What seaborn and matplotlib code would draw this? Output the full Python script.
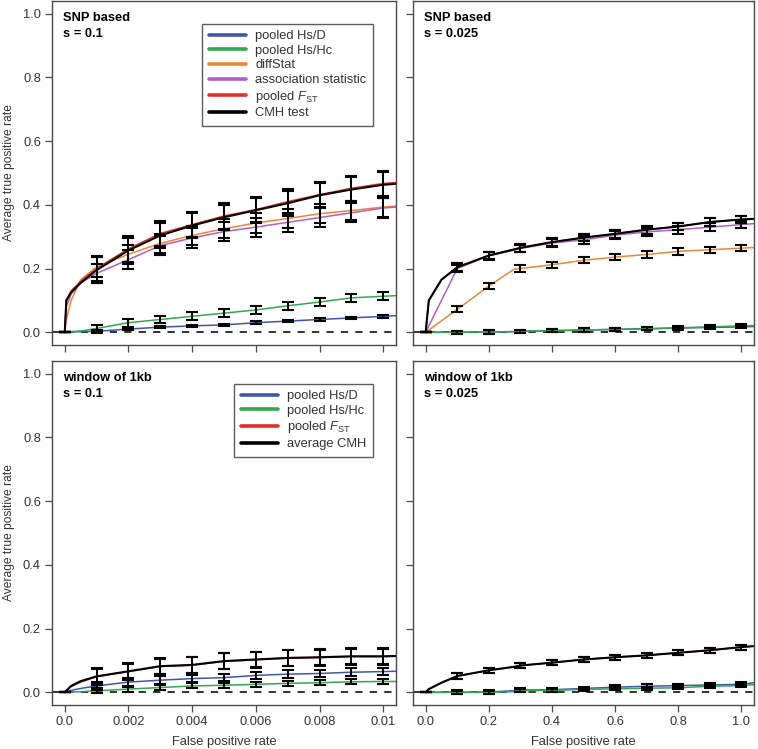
import numpy as np
import pandas as pd
import matplotlib
matplotlib.use("Agg")
import matplotlib.pyplot as plt
from matplotlib.lines import Line2D
import seaborn as sns

# ---- data ----
# left panels: FPR 0..0.01 ; right panels: FPR 0..1
fpr_left = [0, 0.00005, 0.0002, 0.0005, 0.001, 0.002, 0.003, 0.004, 0.005,
            0.006, 0.007, 0.008, 0.009, 0.01, 0.0104]
fpr_right = [0, 0.01, 0.05, 0.1, 0.2, 0.28, 0.3, 0.4, 0.5, 0.6, 0.7, 0.8,
             0.9, 1.0, 1.04]
bar_left = [0, 0.001, 0.002, 0.003, 0.004, 0.005, 0.006, 0.007, 0.008, 0.009, 0.01]
bar_right = [0, 0.1, 0.2, 0.3, 0.4, 0.5, 0.6, 0.7, 0.8, 0.9, 1.0]

# SNP based, s = 0.1
snp01_hsd = [0, 0, 0.001, 0.002, 0.003, 0.010, 0.016, 0.020, 0.023, 0.030, 0.035, 0.040, 0.045, 0.050, 0.052]
snp01_hshc = [0, 0.001, 0.002, 0.004, 0.012, 0.030, 0.040, 0.050, 0.060, 0.070, 0.083, 0.095, 0.108, 0.113, 0.115]
snp01_diff = [0, 0.04, 0.10, 0.165, 0.205, 0.245, 0.279, 0.304, 0.325, 0.343, 0.357, 0.372, 0.382, 0.393, 0.396]
snp01_assoc = [0, 0.08, 0.12, 0.155, 0.185, 0.228, 0.272, 0.296, 0.316, 0.330, 0.345, 0.360, 0.375, 0.390, 0.393]
snp01_fst = [0, 0.10, 0.13, 0.16, 0.200, 0.262, 0.310, 0.338, 0.365, 0.385, 0.410, 0.432, 0.452, 0.467, 0.470]
snp01_cmh = [0, 0.10, 0.125, 0.155, 0.195, 0.257, 0.304, 0.335, 0.361, 0.383, 0.405, 0.430, 0.448, 0.463, 0.466]
snp01_err = {"hsd": 0.004, "hshc": 0.012, "diff": 0.03, "assoc": 0.03, "fst": 0.04, "cmh": 0.04}

# SNP based, s = 0.025
snp025_hsd = [0, 0, 0, 0, 0.001, 0.002, 0.003, 0.005, 0.007, 0.009, 0.011, 0.013, 0.015, 0.017, 0.018]
snp025_hshc = [0, 0, 0, 0, 0.001, 0.002, 0.003, 0.005, 0.007, 0.009, 0.011, 0.014, 0.017, 0.020, 0.021]
snp025_diff = [0, 0.007, 0.036, 0.072, 0.145, 0.198, 0.200, 0.212, 0.226, 0.236, 0.244, 0.254, 0.259, 0.264, 0.266]
snp025_assoc = [0, 0.02, 0.10, 0.20, 0.240, 0.258, 0.263, 0.280, 0.290, 0.305, 0.315, 0.322, 0.330, 0.338, 0.341]
snp025_fst = [0, 0.10, 0.165, 0.204, 0.241, 0.260, 0.265, 0.283, 0.297, 0.309, 0.322, 0.332, 0.346, 0.354, 0.356]
snp025_cmh = [0, 0.10, 0.165, 0.204, 0.241, 0.260, 0.265, 0.283, 0.297, 0.309, 0.322, 0.332, 0.346, 0.354, 0.356]
snp025_err = {"hsd": 0.005, "hshc": 0.005, "diff": 0.01, "assoc": 0.012, "fst": 0.012, "cmh": 0.012}

# window of 1kb, s = 0.1
win01_hsd = [0, 0.002, 0.006, 0.012, 0.020, 0.032, 0.038, 0.043, 0.046, 0.053, 0.057, 0.059, 0.063, 0.065, 0.066]
win01_hshc = [0, 0, 0.001, 0.002, 0.005, 0.010, 0.015, 0.020, 0.022, 0.025, 0.028, 0.030, 0.033, 0.034, 0.034]
win01_fst = [0, 0.005, 0.018, 0.032, 0.049, 0.065, 0.081, 0.085, 0.097, 0.102, 0.107, 0.109, 0.112, 0.112, 0.113]
win01_cmh = [0, 0.005, 0.02, 0.035, 0.050, 0.066, 0.082, 0.086, 0.098, 0.103, 0.108, 0.110, 0.113, 0.113, 0.114]
win01_err = {"hsd": 0.012, "hshc": 0.008, "fst": 0.025, "cmh": 0.025}

# window of 1kb, s = 0.025
win025_hsd = [0, 0, 0, 0, 0.001, 0.005, 0.007, 0.008, 0.012, 0.016, 0.019, 0.021, 0.023, 0.025, 0.030]
win025_hshc = [0, 0, 0, 0, 0.000, 0.002, 0.005, 0.006, 0.009, 0.011, 0.013, 0.014, 0.019, 0.021, 0.024]
win025_fst = [0, 0.01, 0.03, 0.051, 0.069, 0.080, 0.084, 0.093, 0.103, 0.110, 0.116, 0.124, 0.132, 0.142, 0.145]
win025_cmh = [0, 0.01, 0.03, 0.051, 0.069, 0.080, 0.084, 0.093, 0.103, 0.110, 0.116, 0.124, 0.132, 0.142, 0.145]
win025_err = {"hsd": 0.006, "hshc": 0.005, "fst": 0.008, "cmh": 0.008}

names = {"hsd": "pooled Hs/D", "hshc": "pooled Hs/Hc", "diff": "diffStat",
         "assoc": "association statistic", "fst": r"pooled $F_{\mathrm{ST}}$",
         "cmh": "CMH test"}
colors = {"hsd": "#4057a8", "hshc": "#33a651", "diff": "#ec8638",
          "assoc": "#b060c4", "fst": "#e0302a", "cmh": "#000000"}
widths = {"hsd": 1.1, "hshc": 1.1, "diff": 1.1, "assoc": 1.1, "fst": 1.1, "cmh": 1.5}

sns.set_theme(style="ticks")
plt.rcParams["font.family"] = ["Liberation Sans", "DejaVu Sans"]
plt.rcParams["mathtext.fontset"] = "custom"
plt.rcParams["mathtext.rm"] = "Liberation Sans"
plt.rcParams["mathtext.it"] = "Liberation Sans:italic"
plt.rcParams["mathtext.bf"] = "Liberation Sans:bold"

fig = plt.figure(figsize=(7.58, 7.49), dpi=100)
pos = {
    "tl": [0.0686, 0.5394, 0.4538, 0.4593],
    "tr": [0.5449, 0.5394, 0.4499, 0.4593],
    "bl": [0.0686, 0.0587, 0.4538, 0.4593],
    "br": [0.5449, 0.0587, 0.4499, 0.4593],
}

panels = [
    ("tl", fpr_left, bar_left, {"hsd": snp01_hsd, "hshc": snp01_hshc, "diff": snp01_diff,
                                "assoc": snp01_assoc, "fst": snp01_fst, "cmh": snp01_cmh},
     snp01_err, "SNP based\ns = 0.1"),
    ("tr", fpr_right, bar_right, {"hsd": snp025_hsd, "hshc": snp025_hshc, "diff": snp025_diff,
                                  "assoc": snp025_assoc, "fst": snp025_fst, "cmh": snp025_cmh},
     snp025_err, "SNP based\ns = 0.025"),
    ("bl", fpr_left, bar_left, {"hsd": win01_hsd, "hshc": win01_hshc, "fst": win01_fst,
                                "cmh": win01_cmh},
     win01_err, "window of 1kb\ns = 0.1"),
    ("br", fpr_right, bar_right, {"hsd": win025_hsd, "hshc": win025_hshc, "fst": win025_fst,
                                  "cmh": win025_cmh},
     win025_err, "window of 1kb\ns = 0.025"),
]

text_col = "#333333"
edge_col = "#4a4a4a"
fs = 9.3
order = ["hsd", "hshc", "diff", "assoc", "fst", "cmh"]

for key, fpr, bars, series, errs, title in panels:
    ax = fig.add_axes(pos[key])
    rows = []
    for s, vals in series.items():
        for x, y in zip(fpr, vals):
            rows.append((s, x, y))
    df = pd.DataFrame(rows, columns=["series", "fpr", "tpr"])
    top = key[0] == "t"
    right = key[1] == "r"

    for s in order:
        if s not in series:
            continue
        sub = df[df.series == s]
        sns.lineplot(data=sub, x="fpr", y="tpr", ax=ax, color=colors[s],
                     lw=widths[s], estimator=None, sort=False, legend=False)
    # error bars (always black)
    for s in order:
        if s not in series:
            continue
        sub = df[(df.series == s) & (df.fpr.isin(bars))]
        e = np.where(sub.fpr.values == 0, 0, errs[s])
        ax.errorbar(sub.fpr, sub.tpr, yerr=e, fmt="none", ecolor="black",
                    elinewidth=1.4, capsize=4.5, capthick=1.5, zorder=5)
    ax.axhline(0, color="#222222", ls=(0, (4, 4)), lw=1.3, zorder=1)

    if right:
        ax.set_xlim(-0.04, 1.04)
        ax.set_xticks([0, 0.2, 0.4, 0.6, 0.8, 1.0])
        ax.set_xticklabels(["0.0", "0.2", "0.4", "0.6", "0.8", "1.0"])
    else:
        ax.set_xlim(-0.0004, 0.0104)
        ax.set_xticks([0, 0.002, 0.004, 0.006, 0.008, 0.01])
        ax.set_xticklabels(["0.0", "0.002", "0.004", "0.006", "0.008", "0.01"])
    ax.set_ylim(-0.04, 1.04)
    ax.set_yticks([0, 0.2, 0.4, 0.6, 0.8, 1.0])
    ax.set_yticklabels(["0.0", "0.2", "0.4", "0.6", "0.8", "1.0"])
    ax.tick_params(direction="out", length=5, width=0.9, colors=edge_col,
                   labelcolor=text_col, labelsize=fs, pad=3)
    if right:
        ax.tick_params(axis="y", labelleft=False)
        ax.set_ylabel("")
    else:
        ax.set_ylabel("Average true positive rate", fontsize=fs * 0.93, color=text_col)
        ax.yaxis.set_label_coords(-0.108, 0.5)
    if top:
        ax.tick_params(axis="x", labelbottom=False)
        ax.set_xlabel("")
    else:
        ax.set_xlabel("False positive rate", fontsize=fs, color=text_col)
        ax.xaxis.set_label_coords(0.5, -0.09)
    for sp in ax.spines.values():
        sp.set_visible(True)
        sp.set_color(edge_col)
        sp.set_linewidth(1.0)

    ax.text(0.032, 0.967, title, transform=ax.transAxes, ha="left", va="top",
            fontsize=fs, fontweight="bold", color="black", linespacing=1.4)

    if not right:
        handles, labels = [], []
        for s in order:
            if s not in series:
                continue
            handles.append(Line2D([], [], color=colors[s], lw=2.6))
            if s == "cmh":
                labels.append("CMH test" if top else "average CMH")
            else:
                labels.append(names[s])
        leg = ax.legend(handles, labels, loc="upper right", bbox_to_anchor=(0.933, 0.934),
                        borderaxespad=0, fontsize=fs, frameon=True, fancybox=False,
                        handlelength=2.9, handletextpad=0.7, labelspacing=0.2,
                        borderpad=0.5)
        leg.get_frame().set_edgecolor("#333333")
        leg.get_frame().set_linewidth(1.0)
        for t in leg.get_texts():
            t.set_color(text_col)

fig.savefig("out.png", dpi=100)
